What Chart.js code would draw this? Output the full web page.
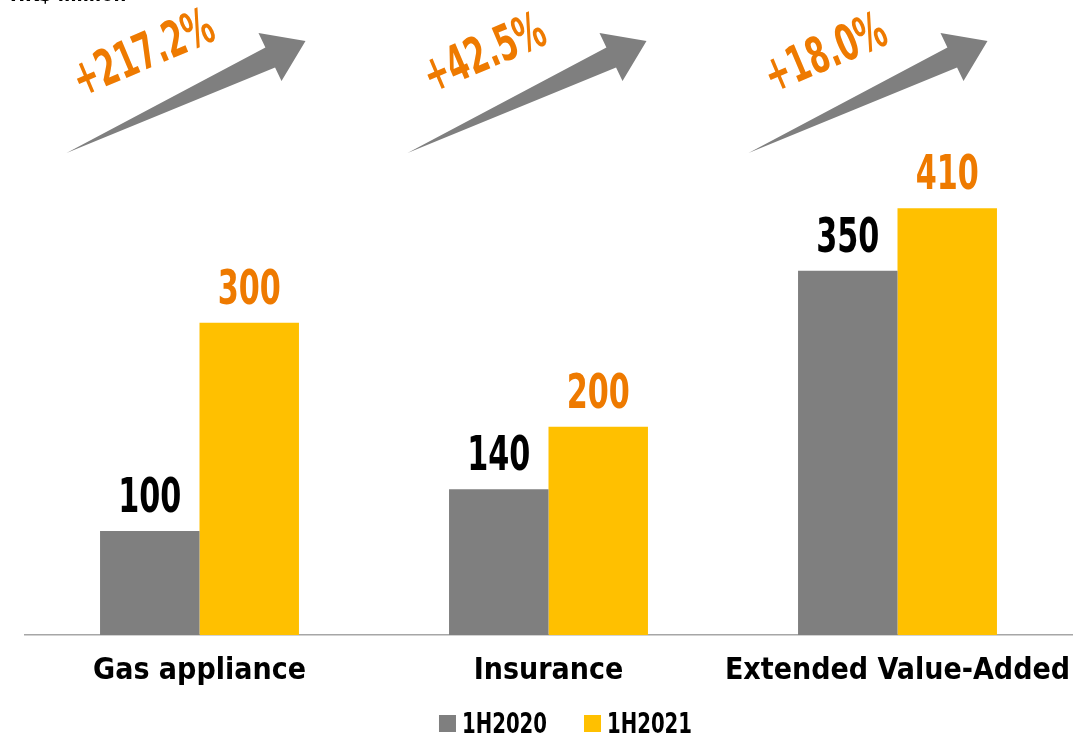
<!DOCTYPE html>
<html>
<head>
<meta charset="utf-8">
<script src="https://cdn.jsdelivr.net/npm/chart.js@4.4.1/dist/chart.umd.min.js"></script>
<style>
  html, body { margin: 0; padding: 0; background: #fff; }
  #wrap { width: 1077px; height: 736px; position: relative; }
</style>
</head>
<body>
<div id="wrap"><canvas id="salesChart"></canvas></div>

<script>
  // chart data
  const categories = ['Gas appliance', 'Insurance', 'Extended Value-Added'];
  const seriesNames = ['1H2020', '1H2021'];
  const values2020 = [100, 140, 350];
  const values2021 = [300, 200, 410];
  const growthLabels = ['+217.2%', '+42.5%', '+18.0%'];
  const unitLabel = 'HK$ million';

  const GRAY = '#7f7f7f';
  const YELLOW = '#ffc000';
  const ORANGE = '#ee7a00';
  const FONT = "'DejaVu Sans Condensed', 'DejaVu Sans', sans-serif";

  // squeeze text horizontally so it looks like the narrow display face
  function narrowText(ctx, text, x, y, sx) {
    ctx.save();
    ctx.translate(x, y);
    ctx.scale(sx, 1);
    ctx.fillText(text, 0, 0);
    ctx.restore();
  }

  // value labels above the bars
  const valueLabels = {
    id: 'valueLabels',
    afterDatasetsDraw(chart) {
      const ctx = chart.ctx;
      ctx.save();
      ctx.font = 'bold 48px ' + FONT;
      ctx.textAlign = 'center';
      ctx.textBaseline = 'alphabetic';
      chart.data.datasets.forEach((ds, i) => {
        ctx.fillStyle = i === 0 ? '#000' : ORANGE;
        chart.getDatasetMeta(i).data.forEach((bar, j) => {
          narrowText(ctx, String(ds.data[j]), bar.x, bar.y - 19, 0.7);
        });
      });
      ctx.restore();
    }
  };

  // growth arrows + percentages at the top of each group
  const growthArrows = {
    id: 'growthArrows',
    afterDatasetsDraw(chart) {
      const ctx = chart.ctx;
      const xScale = chart.scales.x;
      growthLabels.forEach((txt, j) => {
        // the arrows sit a little closer together than the groups
        const c = xScale.getPixelForValue(j) - 8 * (j - 1);
        const tail = [c - 141, 153];
        const tip = [c + 98, 41];
        const up = [c + 51, 33];
        const lo = [c + 74, 81];
        const s1 = [up[0] + 0.3 * (lo[0] - up[0]), up[1] + 0.3 * (lo[1] - up[1])];
        const s2 = [up[0] + 0.72 * (lo[0] - up[0]), up[1] + 0.72 * (lo[1] - up[1])];
        ctx.save();
        ctx.fillStyle = GRAY;
        ctx.beginPath();
        ctx.moveTo(tail[0], tail[1]);
        ctx.lineTo(s1[0], s1[1]);
        ctx.lineTo(up[0], up[1]);
        ctx.lineTo(tip[0], tip[1]);
        ctx.lineTo(lo[0], lo[1]);
        ctx.lineTo(s2[0], s2[1]);
        ctx.closePath();
        ctx.fill();

        ctx.translate(c - 63, 56);
        ctx.rotate(-23 * Math.PI / 180);
        ctx.font = 'bold 50px ' + FONT;
        ctx.fillStyle = ORANGE;
        ctx.textAlign = 'center';
        ctx.textBaseline = 'middle';
        narrowText(ctx, txt, 0, 0, 0.66);
        ctx.restore();
      });
    }
  };

  // legend under the category labels, plus the clipped unit text at the top
  const bottomLegend = {
    id: 'bottomLegend',
    afterDraw(chart) {
      const ctx = chart.ctx;
      ctx.save();
      ctx.font = 'bold 20px ' + FONT;
      ctx.fillStyle = '#000';
      ctx.textBaseline = 'alphabetic';
      ctx.fillText(unitLabel, 10, 1);

      const sx = 0.755;
      ctx.font = 'bold 29px ' + FONT;
      const colors = [GRAY, YELLOW];
      const box = 17, gap = 6, spacing = 37;
      const widths = seriesNames.map(n => ctx.measureText(n).width * sx);
      const total = widths.reduce((a, w) => a + box + gap + w, 0) + spacing;
      let x = chart.width / 2 + 27 - total / 2;
      seriesNames.forEach((name, i) => {
        ctx.fillStyle = colors[i];
        ctx.fillRect(x, 715, box, box);
        ctx.fillStyle = '#000';
        narrowText(ctx, name, x + box + gap, 733, sx);
        x += box + gap + widths[i] + spacing;
      });
      ctx.restore();
    }
  };

  new Chart('salesChart', {
    type: 'bar',
    data: {
      labels: categories,
      datasets: [{
        label: seriesNames[0],
        data: values2020,
        backgroundColor: GRAY,
        barPercentage: 1,
        categoryPercentage: 0.57
      }, {
        label: seriesNames[1],
        data: values2021,
        backgroundColor: YELLOW,
        barPercentage: 1,
        categoryPercentage: 0.57
      }]
    },
    options: {
      responsive: true,
      maintainAspectRatio: false,
      animation: false,
      layout: {
        padding: { left: 25, right: 5, top: 0, bottom: 29 }
      },
      scales: {
        x: {
          grid: { display: false, drawTicks: false },
          border: { display: true, color: '#a6a6a6', width: 1.5 },
          ticks: {
            color: '#000',
            padding: 18,
            maxRotation: 0,
            autoSkip: false,
            font: { family: FONT, size: 30, weight: 'bold' }
          },
          afterFit(scale) {
            // labels may run past the outer categories, keep the full width
            scale.paddingLeft = 0;
            scale.paddingRight = 0;
          }
        },
        y: {
          display: false,
          min: 0,
          max: 610
        }
      },
      plugins: {
        legend: { display: false },
        tooltip: { enabled: false }
      }
    },
    plugins: [valueLabels, growthArrows, bottomLegend]
  });
</script>
</body>
</html>
